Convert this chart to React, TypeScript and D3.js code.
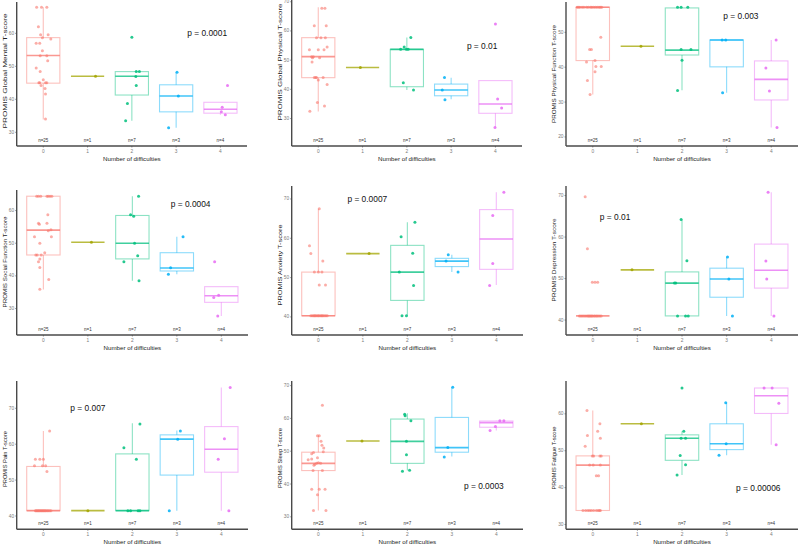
import React from "react";
import * as d3 from "d3";

// ---------- data ----------
const categories = ["0", "1", "2", "3", "4"];
const nLabels = ["n=25", "n=1", "n=7", "n=3", "n=4"];
const groupColors = ["#F8766D", "#A3A500", "#00BF7D", "#00B0F6", "#E76BF3"];
const xTitle = "Number of difficulties";

const yTitles = [
  "PROMIS Global Mental T-score",
  "PROMIS Global Physical T-score",
  "PROMIS Physical Function T-score",
  "PROMIS Social Function T-score",
  "PROMIS Anxiety T-score",
  "PROMIS Depression T-score",
  "PROMIS Pain T-score",
  "PROMIS Sleep T-score",
  "PROMIS Fatigue T-score",
];
const pLabels = [
  "p = 0.0001", "p = 0.01", "p = 0.003",
  "p = 0.0004", "p = 0.0007", "p = 0.01",
  "p = 0.007", "p = 0.0003", "p = 0.00006",
];
// annotation position [category position, value]
const pAt = [
  [3.7, 60], [3.7, 54.8], [3.32, 54.8],
  [3.31, 61.9], [1.1, 69.9], [0.5, 64.9],
  [1.0, 70], [3.72, 39.5], [3.71, 39.8],
];
const yDomains = [
  [25.85, 69.5], [20.6, 70.6], [17.4, 58.7],
  [21.9, 66.3], [35.4, 73.3], [36.4, 72.3],
  [36.3, 77.6], [26.2, 71.4], [28.7, 68.9],
];
const yTicks = [
  [30, 40, 50, 60], [30, 40, 50, 60, 70], [20, 30, 40, 50],
  [30, 40, 50, 60], [40, 50, 60, 70], [40, 50, 60, 70],
  [40, 50, 60, 70], [30, 40, 50, 60, 70], [30, 40, 50, 60],
];

// box stats per group: [lower whisker, q1, median, q3, upper whisker]
const mentalBox = [[33.9, 44.9, 53.3, 58.7, 67.9], [47, 47, 47, 47, 47], [33.5, 41.3, 47.0, 48.4, 48.4], [31.4, 36.2, 41.0, 44.4, 48.2], [35.3, 35.8, 37.0, 39.1, 39.1]];
const physicalBox = [[32.4, 44.0, 51.2, 57.7, 68.1], [47.5, 47.5, 47.5, 47.5, 47.5], [39.8, 40.9, 53.7, 53.7, 57.8], [36.6, 37.8, 39.8, 41.8, 44.0], [26.9, 31.8, 35.0, 43.0, 43.0]];
const physFuncBox = [[32.2, 41.9, 57.2, 57.2, 57.2], [46, 46, 46, 46, 46], [33.4, 43.5, 44.9, 57.0, 57.0], [32.7, 40.1, 47.8, 47.8, 47.8], [22.7, 30.6, 36.5, 41.8, 47.8]];
const socialBox = [[35.8, 46.4, 54.0, 64.4, 64.4], [50.3, 50.3, 50.3, 50.3, 50.3], [38.5, 45.2, 50.0, 58.5, 64.4], [40.5, 41.5, 42.4, 47.1, 52.0], [27.7, 31.9, 33.9, 36.7, 36.7]];
const anxietyBox = [[40.3, 40.3, 40.3, 51.4, 67.5], [56.1, 56.1, 56.1, 56.1, 56.1], [40.3, 44.2, 51.4, 58.2, 64.1], [51.4, 52.8, 54.2, 54.9, 55.8], [48.1, 52.1, 59.8, 67.3, 71.7]];
const depressionBox = [[41, 41, 41, 41, 41], [52.1, 52.1, 52.1, 52.1, 52.1], [41.0, 41.0, 48.9, 51.6, 64.2], [41.0, 45.5, 49.9, 52.5, 55.2], [41.0, 47.7, 52.0, 58.3, 70.8]];
const painBox = [[41.5, 41.5, 41.5, 53.8, 63.7], [41.5, 41.5, 41.5, 41.5, 41.5], [41.5, 41.5, 41.5, 57.3, 65.8], [41.5, 51.4, 61.4, 62.6, 63.8], [41.5, 52.2, 58.6, 64.9, 75.8]];
const sleepBox = [[31.9, 44.1, 46.3, 49.7, 54.7], [53.1, 53.1, 53.1, 53.1, 53.1], [44.1, 46.3, 53.0, 59.8, 61.6], [48.4, 49.7, 51.1, 60.3, 69.5], [56.3, 57.3, 58.7, 59.2, 59.3]];
const fatigueBox = [[33.8, 33.8, 46.1, 48.6, 60.9], [57.3, 57.3, 57.3, 57.3, 57.3], [43.4, 47.4, 53.4, 54.3, 55.3], [48.8, 50.3, 51.9, 57.3, 63.0], [51.6, 60.1, 64.9, 67.0, 67.0]];

// points: [group, jitter (category units), value]
const mentalPts = [
  [0, -0.15, 67.9], [0, -0.04, 67.9], [0, 0.08, 67.9], [0, -0.11, 62.0], [0, -0.06, 59.6], [0, 0.11, 59.6], [0, -0.02, 58.7], [0, 0.17, 58.3],
  [0, -0.08, 57.0], [0, -0.16, 57.0], [0, -0.02, 54.7], [0, -0.07, 53.2], [0, 0.08, 53.2], [0, 0.10, 51.7], [0, -0.16, 49.5], [0, -0.07, 48.4],
  [0, 0.0, 45.9], [0, -0.10, 45.0], [0, -0.08, 45.0], [0, 0.05, 45.0], [0, 0.08, 45.0], [0, -0.05, 44.2], [0, 0.04, 43.3], [0, 0.05, 41.6], [0, 0.05, 34.0],
  [1, 0.18, 47.0],
  [2, 0.0, 58.8], [2, 0.10, 48.4], [2, 0.17, 48.4], [2, 0.09, 46.9], [2, 0.10, 44.2], [2, -0.10, 38.7], [2, -0.14, 33.5],
  [3, 0.02, 48.2], [3, 0.05, 41.0], [3, -0.17, 31.4],
  [4, 0.16, 44.2], [4, 0.04, 37.6], [4, 0.02, 36.2], [4, 0.11, 35.3],
];
const physicalPts = [
  [0, 0.08, 67.8], [0, 0.15, 67.8], [0, -0.09, 61.8], [0, 0.18, 61.8], [0, -0.04, 57.7], [0, 0.06, 57.7], [0, 0.16, 57.7], [0, 0.20, 54.5],
  [0, -0.20, 53.6], [0, 0.0, 53.6], [0, 0.13, 53.6], [0, -0.15, 51.2], [0, -0.11, 51.2], [0, -0.13, 50.8], [0, 0.03, 50.8], [0, -0.14, 49.4],
  [0, -0.06, 44.1], [0, -0.09, 44.1], [0, -0.04, 44.1], [0, 0.11, 44.1], [0, 0.0, 43.2], [0, 0.20, 41.7], [0, -0.02, 35.5], [0, 0.14, 34.3], [0, -0.19, 32.5],
  [1, -0.05, 47.5],
  [2, 0.09, 57.8], [2, -0.06, 54.5], [2, -0.14, 53.7], [2, -0.01, 53.7], [2, 0.03, 53.7], [2, -0.08, 42.3], [2, 0.15, 39.8],
  [3, -0.15, 44.1], [3, -0.20, 39.8], [3, -0.14, 36.4],
  [4, 0.0, 62.4], [4, 0.05, 36.7], [4, 0.14, 33.6], [4, -0.01, 26.9],
];
const physFuncPts = [
  [0, -0.35, 57.2], [0, -0.29, 57.2], [0, -0.24, 57.2], [0, -0.20, 57.2], [0, -0.14, 57.2], [0, -0.10, 57.2], [0, -0.05, 57.2], [0, -0.02, 57.2],
  [0, 0.02, 57.2], [0, 0.06, 57.2], [0, 0.10, 57.2], [0, 0.14, 57.2], [0, 0.17, 57.2], [0, 0.20, 57.2], [0, -0.32, 57.2],
  [0, 0.18, 48.6], [0, -0.07, 45.1], [0, -0.03, 45.1], [0, 0.05, 41.9], [0, -0.14, 41.5], [0, 0.07, 40.2], [0, 0.19, 40.2], [0, 0.05, 38.7], [0, -0.12, 36.2], [0, -0.06, 32.2],
  [1, 0.08, 46.0],
  [2, -0.10, 57.2], [2, -0.02, 57.2], [2, 0.13, 57.2], [2, -0.02, 45.1], [2, 0.20, 45.1], [2, 0.0, 42.0], [2, -0.10, 33.3],
  [3, -0.10, 47.8], [3, -0.02, 47.8], [3, -0.09, 32.7],
  [4, 0.11, 47.8], [4, -0.12, 39.8], [4, -0.04, 33.2], [4, 0.13, 22.7],
];
const socialPts = [
  [0, -0.15, 64.4], [0, -0.11, 64.4], [0, -0.06, 64.4], [0, 0.08, 64.4], [0, 0.11, 64.4], [0, 0.15, 64.4], [0, 0.19, 64.4],
  [0, 0.10, 58.7], [0, -0.11, 56.1], [0, -0.09, 55.8], [0, 0.08, 56.1], [0, 0.11, 53.8], [0, 0.17, 54.1], [0, -0.20, 52.0], [0, 0.18, 52.0],
  [0, -0.08, 50.0], [0, 0.03, 47.1], [0, -0.14, 46.4], [0, -0.05, 46.4], [0, -0.17, 46.4], [0, -0.08, 45.2], [0, -0.11, 44.3], [0, -0.08, 42.6], [0, 0.12, 38.9], [0, -0.08, 35.9],
  [1, 0.08, 50.3],
  [2, 0.14, 64.4], [2, -0.04, 58.7], [2, 0.03, 58.3], [2, 0.05, 50.0], [2, 0.12, 46.2], [2, -0.19, 44.3], [2, 0.15, 38.5],
  [3, 0.14, 52.0], [3, -0.14, 42.5], [3, -0.19, 40.5],
  [4, -0.15, 44.3], [4, -0.06, 34.1], [4, -0.17, 33.4], [4, -0.08, 27.7],
];
const anxietyPts = [
  [0, 0.02, 67.5], [0, -0.20, 58.1], [0, -0.17, 56.1], [0, 0.10, 54.2], [0, -0.09, 51.4], [0, 0.0, 51.4], [0, 0.08, 51.4], [0, 0.02, 48.1], [0, 0.16, 48.1],
  [0, -0.17, 40.3], [0, -0.14, 40.3], [0, -0.11, 40.3], [0, -0.09, 40.3], [0, -0.07, 40.3], [0, -0.05, 40.3], [0, -0.02, 40.3], [0, 0.0, 40.3],
  [0, 0.02, 40.3], [0, 0.05, 40.3], [0, 0.07, 40.3], [0, 0.09, 40.3], [0, 0.11, 40.3], [0, 0.14, 40.3], [0, 0.17, 40.3], [0, 0.20, 40.3],
  [1, 0.14, 56.1],
  [2, 0.17, 64.1], [2, -0.14, 60.4], [2, 0.12, 56.2], [2, -0.18, 51.4], [2, 0.14, 48.0], [2, -0.12, 40.3], [2, -0.02, 40.3],
  [3, -0.08, 55.8], [3, -0.13, 54.2], [3, 0.14, 51.4],
  [4, 0.17, 71.7], [4, -0.08, 65.8], [4, -0.08, 53.6], [4, -0.15, 48.0],
];
const depressionPts = [
  [0, -0.17, 69.7], [0, -0.12, 57.2], [0, -0.01, 49.1], [0, 0.05, 49.1], [0, 0.11, 49.1],
  [0, -0.30, 41.0], [0, -0.27, 41.0], [0, -0.24, 41.0], [0, -0.21, 41.0], [0, -0.18, 41.0], [0, -0.15, 41.0], [0, -0.12, 41.0], [0, -0.10, 41.0],
  [0, -0.08, 41.0], [0, -0.06, 41.0], [0, -0.04, 41.0], [0, -0.02, 41.0], [0, 0.0, 41.0], [0, 0.03, 41.0], [0, 0.05, 41.0], [0, 0.08, 41.0],
  [0, 0.10, 41.0], [0, 0.13, 41.0], [0, 0.16, 41.0], [0, 0.19, 41.0],
  [1, -0.12, 52.1],
  [2, -0.02, 64.2], [2, 0.11, 54.3], [2, -0.17, 48.9], [2, -0.14, 48.9], [2, -0.10, 41.0], [2, 0.14, 41.0], [2, 0.08, 41.0],
  [3, 0.02, 55.2], [3, 0.05, 49.9], [3, 0.13, 41.0],
  [4, -0.07, 70.8], [4, -0.12, 54.2], [4, -0.10, 49.9], [4, 0.06, 41.0],
];
const painPts = [
  [0, 0.14, 63.7], [0, -0.18, 55.8], [0, -0.08, 55.8], [0, 0.0, 55.8], [0, -0.20, 54.0], [0, -0.02, 54.0], [0, 0.05, 54.0], [0, 0.08, 52.4],
  [0, -0.18, 41.5], [0, -0.16, 41.5], [0, -0.14, 41.5], [0, -0.12, 41.5], [0, -0.10, 41.5], [0, -0.08, 41.5], [0, -0.06, 41.5], [0, -0.04, 41.5],
  [0, -0.02, 41.5], [0, 0.0, 41.5], [0, 0.02, 41.5], [0, 0.04, 41.5], [0, 0.06, 41.5], [0, 0.09, 41.5], [0, 0.11, 41.5], [0, 0.14, 41.5], [0, 0.17, 41.5],
  [1, 0.0, 41.5],
  [2, 0.17, 65.6], [2, -0.19, 59.0], [2, 0.09, 55.8], [2, -0.10, 41.5], [2, -0.04, 41.5], [2, 0.13, 41.5], [2, 0.17, 41.5],
  [3, 0.08, 63.7], [3, 0.02, 61.4], [3, -0.17, 41.5],
  [4, 0.20, 75.8], [4, 0.07, 61.5], [4, -0.07, 55.8], [4, 0.17, 41.5],
];
const sleepPts = [
  [0, 0.09, 64.0], [0, -0.02, 54.7], [0, 0.02, 54.7], [0, 0.06, 53.0], [0, 0.08, 51.8], [0, 0.12, 51.0], [0, -0.11, 49.6], [0, -0.15, 49.2],
  [0, 0.11, 49.8], [0, -0.02, 48.0], [0, -0.15, 47.6], [0, -0.23, 47.4], [0, -0.04, 46.3], [0, -0.08, 46.0], [0, -0.10, 45.7], [0, 0.05, 46.3],
  [0, 0.0, 46.5], [0, -0.12, 44.1], [0, 0.09, 44.1], [0, -0.15, 38.4], [0, 0.15, 38.4], [0, 0.02, 38.4], [0, -0.02, 36.7], [0, -0.11, 31.9], [0, 0.17, 31.9],
  [1, -0.02, 53.1],
  [2, -0.06, 61.3], [2, -0.05, 60.8], [2, 0.08, 59.3], [2, -0.02, 53.0], [2, -0.02, 48.9], [2, -0.11, 43.9], [2, 0.05, 44.2],
  [3, 0.02, 69.5], [3, -0.09, 51.1], [3, -0.17, 48.2],
  [4, 0.08, 59.3], [4, 0.17, 59.3], [4, -0.02, 57.5], [4, -0.14, 56.3],
];
const fatiguePts = [
  [0, -0.13, 60.9], [0, 0.16, 57.3], [0, 0.11, 55.3], [0, -0.12, 54.1], [0, 0.17, 53.4], [0, -0.17, 51.2], [0, -0.01, 48.6], [0, 0.02, 48.6],
  [0, 0.19, 48.6], [0, 0.16, 48.6], [0, -0.07, 46.1], [0, 0.01, 46.1], [0, 0.17, 46.1], [0, 0.08, 43.2], [0, 0.13, 43.2],
  [0, -0.22, 33.8], [0, -0.16, 33.8], [0, -0.11, 33.8], [0, -0.07, 33.8], [0, -0.03, 33.8], [0, 0.02, 33.8], [0, 0.08, 33.8], [0, 0.12, 33.8], [0, 0.15, 33.8], [0, 0.17, 33.8],
  [1, 0.09, 57.3],
  [2, 0.0, 67.0], [2, 0.04, 55.3], [2, -0.02, 53.4], [2, 0.08, 53.4], [2, -0.04, 48.7], [2, 0.08, 46.2], [2, -0.11, 43.4],
  [3, -0.02, 63.0], [3, -0.01, 51.9], [3, -0.17, 48.8],
  [4, -0.16, 67.0], [4, 0.02, 67.0], [4, 0.17, 62.9], [4, 0.11, 51.6],
];

const panelBoxes = [mentalBox, physicalBox, physFuncBox, socialBox, anxietyBox, depressionBox, painBox, sleepBox, fatigueBox];
const panelPoints = [mentalPts, physicalPts, physFuncPts, socialPts, anxietyPts, depressionPts, painPts, sleepPts, fatiguePts];

// ---------- layout ----------
const frames = [
  { l: 16.7, r: 247, t: 2, b: 146 },
  { l: 291.7, r: 522, t: 0, b: 146 },
  { l: 566, r: 798, t: 2, b: 146 },
  { l: 16.7, r: 248, t: 190, b: 335 },
  { l: 291.7, r: 523, t: 186, b: 335 },
  { l: 566, r: 798, t: 186, b: 335 },
  { l: 16.7, r: 248, t: 381, b: 529.3 },
  { l: 291.7, r: 523, t: 381, b: 529.3 },
  { l: 566, r: 798, t: 381, b: 529.3 },
];
const titleLen = [115, 117, 98, 91, 81, 83, 56, 60, 63];
const titleY = [71, 62, 74, 262, 265, 260, 459, 458, 458];
const FONT = "'Liberation Sans', Arial, Helvetica, sans-serif";
const AXIS = "#4a4a4a";

function Panel({ i }: { i: number }) {
  const f = frames[i];
  const x = d3.scaleLinear().domain([-0.6, 4.6]).range([f.l, f.r]);
  const y = d3.scaleLinear().domain(yDomains[i]).range([f.b, f.t]);
  const half = (x(0.75) - x(0)) / 2;
  const boxes = panelBoxes[i];
  const pts = panelPoints[i];
  return (
    <g>
      {/* boxes */}
      {boxes.map((s, g) => {
        const cx = x(g);
        const c = groupColors[g];
        return (
          <g key={"b" + g}>
            <line x1={cx} x2={cx} y1={y(s[0])} y2={y(s[1])} stroke={c} strokeOpacity={0.45} strokeWidth={1.1} />
            <line x1={cx} x2={cx} y1={y(s[3])} y2={y(s[4])} stroke={c} strokeOpacity={0.45} strokeWidth={1.1} />
            <rect x={cx - half} y={y(s[3])} width={half * 2} height={Math.max(0, y(s[1]) - y(s[3]))}
              fill="none" stroke={c} strokeOpacity={0.45} strokeWidth={1.1} />
            <line x1={cx - half} x2={cx + half} y1={y(s[2])} y2={y(s[2])} stroke={c} strokeOpacity={0.75} strokeWidth={1.6} />
          </g>
        );
      })}
      {/* points */}
      {pts.map((p, k) => (
        <circle key={"p" + k} cx={x(p[0] + p[1])} cy={y(p[2])} r={1.5}
          fill={groupColors[p[0]]} fillOpacity={p[0] === 0 ? 0.6 : 0.85} />
      ))}
      {/* n labels */}
      {categories.map((c, g) => (
        <text key={"n" + g} x={x(g)} y={f.b - 5.5} fontSize={4.5} fill="#333" textAnchor="middle"
          dominantBaseline="central" fontFamily={FONT}>{nLabels[g]}</text>
      ))}
      {/* axes */}
      <line x1={f.l} x2={f.l} y1={f.t} y2={f.b} stroke={AXIS} strokeWidth={1.4} />
      <line x1={f.l} x2={f.r} y1={f.b} y2={f.b} stroke={AXIS} strokeWidth={1.4} />
      {yTicks[i].map((t) => (
        <g key={"yt" + t}>
          <line x1={f.l - 1.5} x2={f.l} y1={y(t)} y2={y(t)} stroke={AXIS} strokeWidth={0.6} />
          <text x={f.l - 2.5} y={y(t)} fontSize={4.8} fill="#7a7a7a" textAnchor="end"
            dominantBaseline="central" fontFamily={FONT}>{t}</text>
        </g>
      ))}
      {categories.map((c, g) => (
        <g key={"xt" + g}>
          <line x1={x(g)} x2={x(g)} y1={f.b} y2={f.b + 1.5} stroke={AXIS} strokeWidth={0.6} />
          <text x={x(g)} y={f.b + 5} fontSize={4.8} fill="#7a7a7a" textAnchor="middle"
            dominantBaseline="central" fontFamily={FONT}>{c}</text>
        </g>
      ))}
      <text x={(f.l + f.r) / 2} y={f.b + 12} fontSize={6.2} fill="#222" textAnchor="middle"
        dominantBaseline="central" fontFamily={FONT}>{xTitle}</text>
      <text transform={`translate(${f.l - 12.2},${titleY[i]}) rotate(-90)`} fontSize={6.2} fill="#222"
        textAnchor="middle" dominantBaseline="central" fontFamily={FONT}
        textLength={titleLen[i]} lengthAdjust="spacingAndGlyphs">{yTitles[i]}</text>
      {/* p value */}
      <text x={x(pAt[i][0])} y={y(pAt[i][1])} fontSize={8.4} fill="#111" textAnchor="middle"
        dominantBaseline="central" fontFamily={FONT}>{pLabels[i]}</text>
    </g>
  );
}

export default function App() {
  return (
    <svg width={800} height={546} viewBox="0 0 800 546"
      style={{ position: "absolute", left: 0, top: 0, background: "#fff" }}>
      <rect x={0} y={0} width={800} height={546} fill="#fff" />
      {frames.map((_, i) => <Panel key={i} i={i} />)}
    </svg>
  );
}
